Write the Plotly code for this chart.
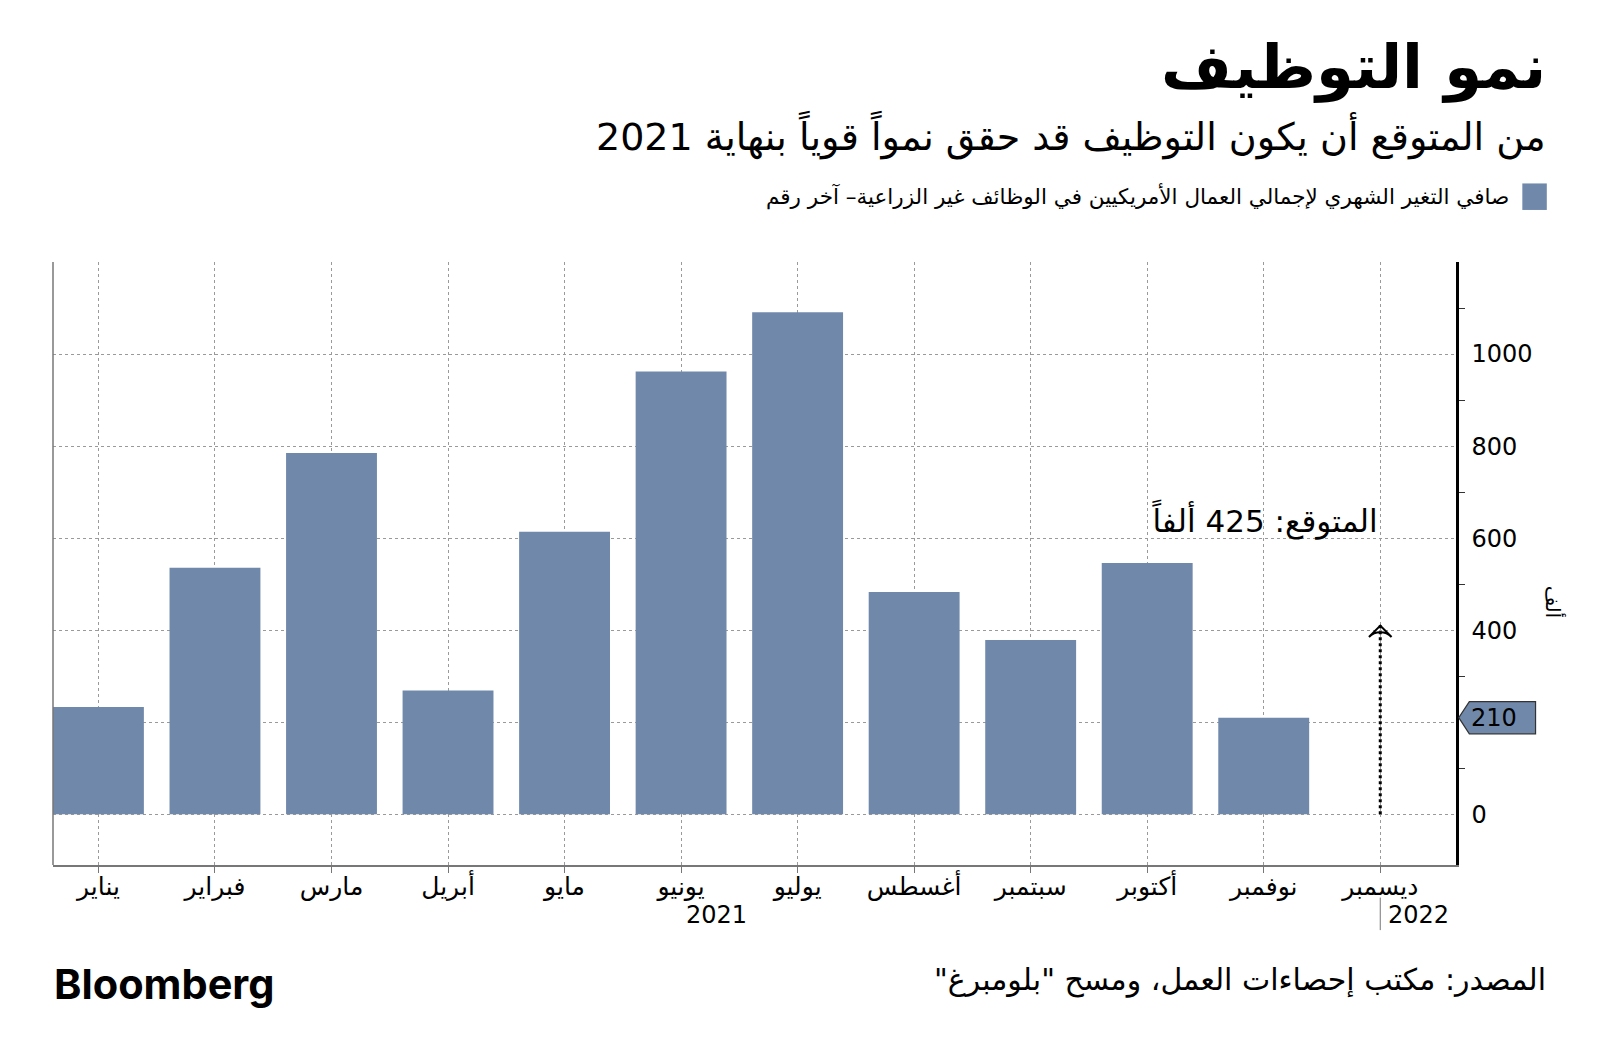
import plotly.graph_objects as go

months = ["يناير", "فبراير", "مارس", "أبريل", "مايو", "يونيو",
          "يوليو", "أغسطس", "سبتمبر", "أكتوبر", "نوفمبر", "ديسمبر"]
payrolls = [233, 536, 785, 269, 614, 962, 1091, 483, 379, 546, 210, None]
forecast_month = "ديسمبر"
forecast_value = 425
latest_value = 210
y_tickvals = [0, 200, 400, 600, 800, 1000, 1200]
y_ticktext = ["0", "", "400", "600", "800", "1000", ""]
y_minor = [100, 300, 500, 700, 900, 1100]

BAR = "#7089ab"
AR = "DejaVu Sans"
X_RANGE = [-0.39, 11.65]
Y_RANGE = [-110, 1200]

fig = go.Figure()
fig.add_trace(go.Bar(x=months, y=payrolls, marker=dict(color=BAR, line=dict(width=0)),
                     width=0.78, showlegend=False, hoverinfo="skip"))

# forecast dotted arrow
fig.add_trace(go.Scatter(x=[forecast_month, forecast_month], y=[0, forecast_value - 8],
                         mode="lines", line=dict(color="black", width=3, dash="dot"),
                         showlegend=False, hoverinfo="skip"))
fig.add_trace(go.Scatter(x=[forecast_month], y=[forecast_value - 15], mode="markers",
                         marker=dict(symbol="arrow-wide-open", size=16, color="black",
                                     line=dict(color="black", width=2)),
                         showlegend=False, hoverinfo="skip", cliponaxis=False))

# arrow-shaped major ticks on the right axis
fig.add_trace(go.Scatter(x=[X_RANGE[1]] * len(y_tickvals), y=y_tickvals, mode="markers",
                         marker=dict(symbol="triangle-right", size=10, color="black"),
                         showlegend=False, hoverinfo="skip", cliponaxis=False))

fig.update_layout(
    width=1600, height=1063,
    margin=dict(l=53, r=144, t=262, b=198),
    paper_bgcolor="white", plot_bgcolor="white",
    font=dict(family=AR, color="black"),
)
fig.update_xaxes(
    type="category", range=X_RANGE, categoryorder="array", categoryarray=months,
    showgrid=True, gridcolor="#9a9a9a", griddash="dot", gridwidth=1,
    showline=True, linecolor="#777777", linewidth=1.5, mirror=False,
    ticks="outside", ticklen=6, tickcolor="#777777", ticklabelstandoff=-8,
    tickfont=dict(family=AR, size=25, color="black"), zeroline=False,
)
fig.update_yaxes(
    range=Y_RANGE, side="right", tickvals=y_tickvals, ticktext=y_ticktext,
    showgrid=True, gridcolor="#9a9a9a", griddash="dot", gridwidth=1,
    showline=True, linecolor="black", linewidth=2.5,
    ticks="", tickfont=dict(family="DejaVu Sans", size=24, color="black"),
    ticklabelstandoff=8, zeroline=False,
    minor=dict(tickvals=y_minor, ticks="outside", ticklen=6, tickcolor="#333333", showgrid=False),
)

shapes = []
# left frame line
shapes.append(dict(type="line", xref="paper", yref="paper", x0=0, x1=0, y0=0, y1=1,
                   line=dict(color="#777777", width=1.5)))
# year separator under December
shapes.append(dict(type="line", xref="x", yref="paper", x0=forecast_month, x1=forecast_month,
                   y0=-0.054, y1=-0.108, line=dict(color="#777777", width=1)))
# latest value pentagon marker
h = 35
path = (f"M 1.002,{latest_value} L 1.0095,{latest_value + h} L 1.0567,{latest_value + h} "
        f"L 1.0567,{latest_value - h} L 1.0095,{latest_value - h} Z")
shapes.append(dict(type="path", xref="paper", yref="y", path=path,
                   fillcolor=BAR, line=dict(color="#333333", width=1.2), layer="above"))
# legend swatch
shapes.append(dict(type="rect", xref="paper", yref="paper",
                   x0=(1492 - 52) / 1375, x1=(1516 - 52) / 1375,
                   y0=1 + (257 - 206) / 591, y1=1 + (257 - 180) / 591,
                   fillcolor=BAR, line=dict(width=0)))
fig.update_layout(shapes=shapes)

def px_x(p):
    return (p - 52) / 1375

def px_y(p):
    return 1 - (p - 257) / 591

ann = []
ann.append(dict(xref="paper", yref="paper", x=px_x(1517), y=px_y(66), xanchor="right", yanchor="middle",
                text="<b>نمو التوظيف</b>", showarrow=False,
                font=dict(family=AR, size=61, color="black")))
ann.append(dict(xref="paper", yref="paper", x=px_x(1517), y=px_y(133), xanchor="right", yanchor="middle",
                text="من المتوقع أن يكون التوظيف قد حقق نمواً قوياً بنهاية 2021", showarrow=False,
                font=dict(family=AR, size=38, color="black")))
ann.append(dict(xref="paper", yref="paper", x=px_x(1481), y=px_y(193), xanchor="right", yanchor="middle",
                text="صافي التغير الشهري لإجمالي العمال الأمريكيين في الوظائف غير الزراعية– آخر رقم",
                showarrow=False, font=dict(family=AR, size=21.5, color="black")))
ann.append(dict(xref="x", yref="y", x=forecast_month, y=640, xanchor="right", yanchor="middle",
                text="المتوقع: 425 ألفاً", showarrow=False,
                font=dict(family=AR, size=31, color="black")))
ann.append(dict(xref="paper", yref="y", x=px_x(1440), y=latest_value, xanchor="left", yanchor="middle",
                text=str(latest_value), showarrow=False,
                font=dict(family="DejaVu Sans", size=24, color="black")))
ann.append(dict(xref="paper", yref="paper", x=px_x(1522), y=px_y(590), xanchor="center", yanchor="middle",
                text="ألف", textangle=90, showarrow=False,
                font=dict(family=AR, size=20, color="black")))
ann.append(dict(xref="x", yref="paper", x=5.3, y=px_y(897), xanchor="center", yanchor="middle",
                text="2021", showarrow=False, font=dict(family="DejaVu Sans", size=24, color="black")))
ann.append(dict(xref="x", yref="paper", x=11.33, y=px_y(897), xanchor="center", yanchor="middle",
                text="2022", showarrow=False, font=dict(family="DejaVu Sans", size=24, color="black")))
ann.append(dict(xref="paper", yref="paper", x=px_x(1517), y=px_y(961), xanchor="right", yanchor="middle",
                text="المصدر: مكتب إحصاءات العمل، ومسح \"بلومبرغ\"\u200f", showarrow=False,
                font=dict(family=AR, size=30, color="black")))
ann.append(dict(xref="paper", yref="paper", x=px_x(51), y=px_y(965), xanchor="left", yanchor="middle",
                text="<b>Bloomberg</b>", showarrow=False,
                font=dict(family="Inter", size=41.5, color="black", weight=900)))
fig.update_layout(annotations=ann)

fig.write_html("out.html", config={"displayModeBar": False},
               post_script="document.body.style.margin='0';document.body.style.overflow='hidden';")
